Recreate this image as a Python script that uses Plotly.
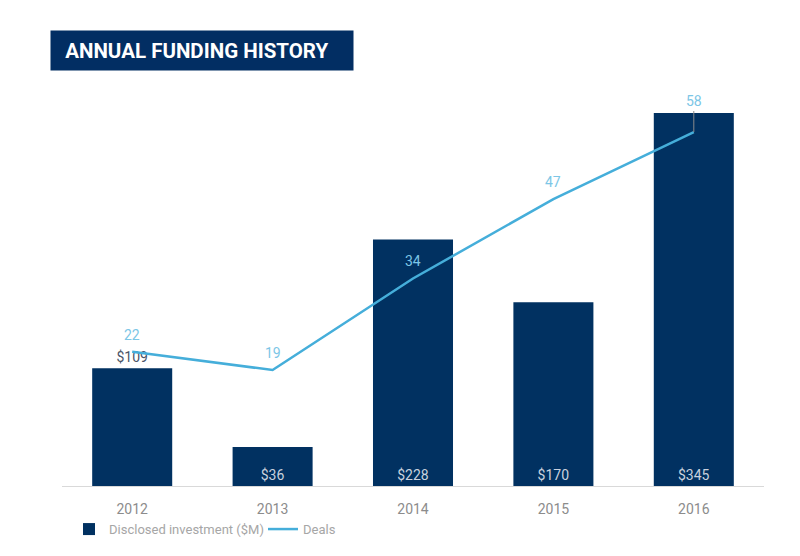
import plotly.graph_objects as go

years = ["2012", "2013", "2014", "2015", "2016"]
investment = [109, 36, 228, 170, 345]
deals = [22, 19, 34, 47, 58]
inv_labels = ["$109", "$36", "$228", "$170", "$345"]
title_text = "ANNUAL FUNDING HISTORY"

NAVY = "#013161"
LINE = "#45AEDA"
LABEL_BLUE = "#7CC6E6"
GRAY = "#A6A6A6"

fig = go.Figure()

fig.add_trace(go.Bar(
    x=years, y=investment, name="Disclosed investment ($M)",
    marker=dict(color=NAVY, line=dict(width=0)),
    text=inv_labels,
    textposition=["outside", "inside", "inside", "inside", "inside"],
    insidetextanchor="start",
    textfont=dict(color=["#4A5568", "#C9D1DE", "#C9D1DE", "#C9D1DE", "#C9D1DE"], size=14,
                  family="Roboto"),
    cliponaxis=False,
    yaxis="y",
))

fig.add_trace(go.Scatter(
    x=years, y=deals, name="Deals", mode="lines",
    line=dict(color=LINE, width=2.5),
    yaxis="y2",
))

# deal labels (x given as category index)
for i, d in enumerate(deals):
    last = i == len(deals) - 1
    fig.add_annotation(
        x=i, y=d, xref="x", yref="y2", text=str(d),
        showarrow=last, arrowhead=0, arrowwidth=1, arrowcolor="#8A8A8A",
        ax=0, ay=-21 if last else 0,
        yshift=0 if last else 17,
        yanchor="bottom" if last else "middle",
        font=dict(color=LABEL_BLUE, size=14, family="Roboto"),
    )

fig.add_annotation(
    xref="paper", yref="paper", x=-0.0171, y=1.0223, xanchor="left", yanchor="middle",
    text="&nbsp;&nbsp;<b>" + title_text + "</b>", showarrow=False,
    bgcolor="#022E63", width=294, height=31, align="left", borderpad=4,
    font=dict(color="white", size=20.5, family="Roboto"),
)

fig.update_layout(
    width=800, height=556,
    margin=dict(l=54, r=44, t=52, b=78),
    plot_bgcolor="white", paper_bgcolor="white",
    bargap=0.43,
    showlegend=True,
    legend=dict(orientation="h", x=0.01, y=-0.066, xanchor="left", yanchor="top",
                font=dict(color=GRAY, size=13, family="Roboto"),
                itemwidth=30, tracegroupgap=0, entrywidth=149, entrywidthmode="pixels"),
    xaxis=dict(type="category", range=[-0.5, 4.5], showgrid=False, showline=True,
               linecolor="#D9D9D9", linewidth=1, ticklabelstandoff=10,
               ticks="", tickfont=dict(color="#8C8C8C", size=14, family="Roboto")),
    yaxis=dict(range=[0, 394], visible=False, showgrid=False),
    yaxis2=dict(range=[0, 69.8], overlaying="y", side="right", visible=False, showgrid=False),
    font=dict(family="Roboto"),
)

fig.write_html("out.html")
